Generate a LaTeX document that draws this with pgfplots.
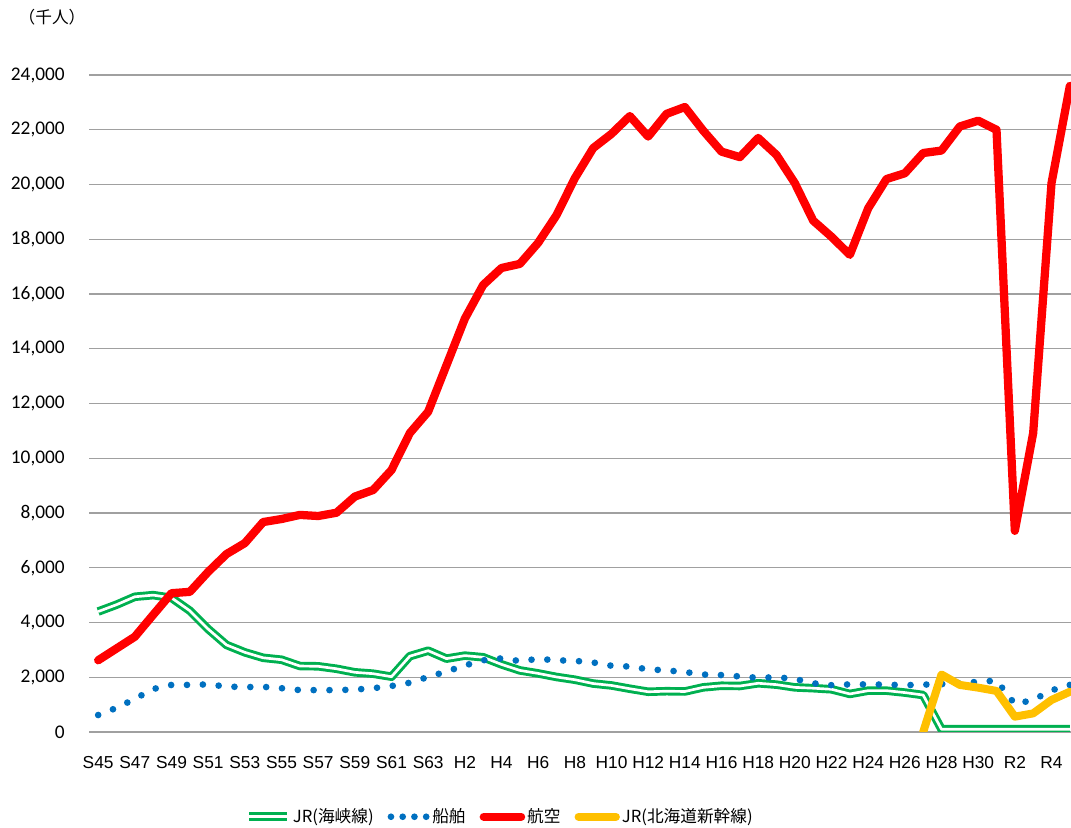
\documentclass[border=0pt]{standalone}
\usepackage{fontspec}
\setmainfont{Carlito}
\newfontfamily\arialf{Liberation Sans}
\newfontfamily\cjk{Noto Sans CJK JP}
\usepackage{pgfplots}
\usepackage{pgfplotstable}
\pgfplotsset{compat=1.18}
\definecolor{cgreen}{HTML}{00B050}
\definecolor{cblue}{HTML}{0070C0}
\definecolor{cred}{HTML}{FF0000}
\definecolor{cyellow}{HTML}{FFC000}
\definecolor{gridgray}{RGB}{160,160,160}
\pgfplotsset{dotlegend/.style={legend image code/.code={\draw[##1, dash pattern=on 0pt off 8.8pt] (2pt,0pt) -- (29pt,0pt);}}}

\pgfplotstableread{
i jr ship air shin
0 4400 620 2620 nan
1 4650 880 3050 nan
2 4940 1210 3480 nan
3 5000 1570 4280 nan
4 4900 1720 5070 nan
5 4430 1720 5120 nan
6 3760 1740 5850 nan
7 3180 1660 6500 nan
8 2910 1640 6900 nan
9 2710 1650 7670 nan
10 2640 1600 7780 nan
11 2410 1530 7930 nan
12 2400 1530 7890 nan
13 2310 1530 8010 nan
14 2180 1550 8600 nan
15 2130 1600 8840 nan
16 2020 1680 9570 nan
17 2770 1800 10920 nan
18 2970 2010 11700 nan
19 2680 2210 13400 nan
20 2790 2430 15100 nan
21 2730 2620 16330 nan
22 2470 2690 16950 nan
23 2250 2590 17100 nan
24 2140 2670 17870 nan
25 2010 2620 18880 nan
26 1910 2600 20230 nan
27 1770 2540 21330 nan
28 1700 2420 21850 nan
29 1580 2390 22500 nan
30 1470 2290 21750 nan
31 1490 2250 22580 nan
32 1480 2190 22830 nan
33 1630 2100 21970 nan
34 1690 2080 21200 nan
35 1680 2030 21000 nan
36 1780 1980 21700 nan
37 1730 2000 21080 nan
38 1630 1940 20050 nan
39 1600 1780 18680 nan
40 1560 1710 18090 nan
41 1390 1740 17430 nan
42 1510 1740 19130 nan
43 1510 1730 20200 nan
44 1440 1710 20410 nan
45 1350 1730 21150 0
46 100 1750 21240 2100
47 100 1800 22120 1720
48 100 1830 22330 1620
49 100 1880 22000 1500
50 100 1020 7350 560
51 100 1170 10920 680
52 100 1520 20050 1170
53 100 1720 23600 1470
}\datatable

\begin{document}
\begin{tikzpicture}
\begin{axis}[
  at={(66.75pt,72pt)}, anchor=south west,
  scale only axis, width=742.5pt, height=492.75pt,
  xmin=-0.5, xmax=53.5, ymin=0, ymax=24000,
  axis line style={draw=none},
  major tick length=0pt,
  ymajorgrids,
  grid style={line width=0.9pt, color=gridgray},
  ytick={0,2000,...,24000},
  scaled y ticks=false,
  yticklabel style={font=\fontsize{14.5}{16}\selectfont, anchor=east, inner sep=0pt, xshift=-18pt,
    /pgf/number format/.cd, fixed, 1000 sep={,}, assume math mode=true},
  xtick={0,2,...,52},
  xticklabels={S45,S47,S49,S51,S53,S55,S57,S59,S61,S63,H2,H4,H6,H8,H10,H12,H14,H16,H18,H20,H22,H24,H26,H28,H30,R2,R4},
  xticklabel style={font=\arialf\fontsize{13}{15}\selectfont, anchor=north, inner sep=0pt, yshift=-18pt},
  legend style={at={(0.415,-0.129)}, anchor=center, draw=none, fill=none,
    legend columns=4, font=\cjk\fontsize{12.5}{15}\selectfont,
    nodes={inner sep=1.5pt},
    /tikz/every even column/.append style={column sep=9pt}},
  legend image code/.code={\draw[#1] (0pt,0pt) -- (28pt,0pt);},
  line join=round,
]
\addplot[draw=cgreen, double=white, line width=2.2pt, double distance=2pt, mark=none]
  table[x=i, y=jr] {\datatable};
\addlegendentry{JR(海峡線)}
\addplot[draw=cblue, line width=5pt, line cap=round, dash pattern=on 0pt off 11.9pt, mark=none, dotlegend]
  table[x=i, y=ship] {\datatable};
\addlegendentry{船舶}
\addplot[draw=cred, line width=6.2pt, mark=none, line cap=round]
  table[x=i, y=air] {\datatable};
\addlegendentry{航空}
\addplot[draw=cyellow, line width=6pt, mark=none, line cap=round, unbounded coords=jump]
  table[x=i, y=shin] {\datatable};
\addlegendentry{JR(北海道新幹線)}
\end{axis}
\node[font=\cjk\fontsize{12.5}{14}\selectfont] at (39pt,608pt) {（千人）};
\pgfresetboundingbox
\path (0pt,0pt) rectangle (803.25pt,621pt);
\end{tikzpicture}
\end{document}
